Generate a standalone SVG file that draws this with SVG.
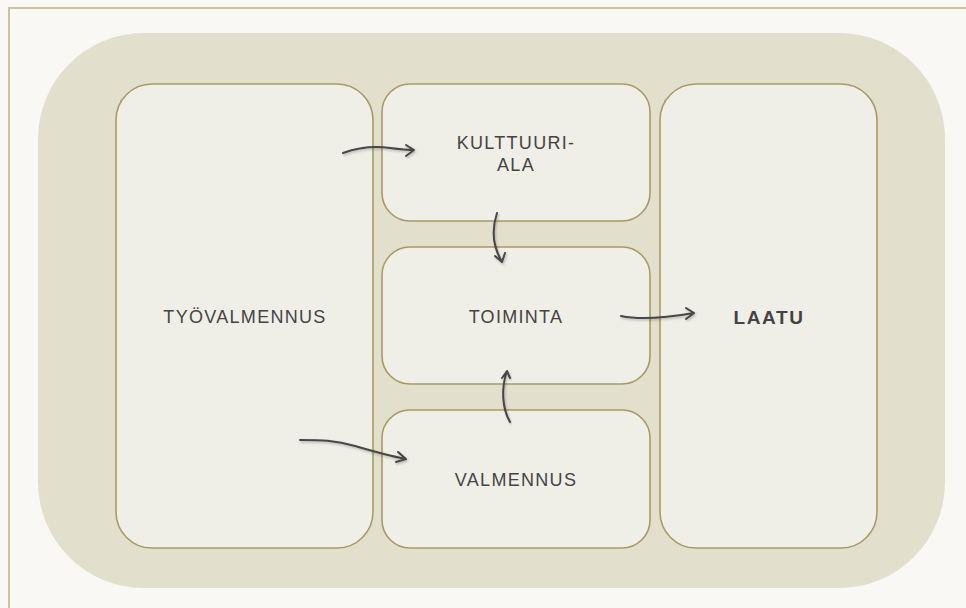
<svg xmlns="http://www.w3.org/2000/svg" width="966" height="608" viewBox="0 0 966 608">
  <style>
    .box { fill: #f0efe7; stroke: #a89a64; stroke-width: 1.6; }
    .lbl { font-family: "Liberation Sans", Arial, sans-serif; font-size: 18px; fill: #444444; text-anchor: middle; letter-spacing: 1.3px; }
    .big { font-size: 19px; font-weight: bold; letter-spacing: 1.6px; }
    .arrow { fill: none; stroke: #464646; stroke-width: 2; stroke-linecap: round; stroke-linejoin: round; filter: url(#soft); }
  </style>
  <defs>
    <filter id="soft" x="-20%" y="-20%" width="140%" height="140%">
      <feDropShadow dx="1" dy="1.5" stdDeviation="1.2" flood-color="#000000" flood-opacity="0.25"/>
    </filter>
  </defs>

  <!-- page background and frame -->
  <rect x="0" y="0" width="966" height="608" fill="#f9f8f5"/>
  <rect x="9" y="8" width="970" height="620" fill="none" stroke="#cbc29f" stroke-width="2"/>

  <!-- backdrop panel -->
  <rect x="38" y="33" width="907" height="555" rx="106" ry="106" fill="#e2dfcc"/>

  <g id="tyovalmennus">
    <rect class="box" x="116" y="84" width="257" height="464" rx="36" ry="36"/>
    <text class="lbl" x="245" y="323">TYÖVALMENNUS</text>
  </g>

  <g id="kulttuuriala">
    <rect class="box" x="382" y="84" width="268" height="137" rx="28" ry="28"/>
    <text class="lbl" x="516" y="149">KULTTUURI-</text>
    <text class="lbl" x="516" y="171">ALA</text>
  </g>

  <g id="toiminta">
    <rect class="box" x="382" y="247" width="268" height="137" rx="28" ry="28"/>
    <text class="lbl" x="516" y="323">TOIMINTA</text>
  </g>

  <g id="valmennus">
    <rect class="box" x="382" y="410" width="268" height="138" rx="28" ry="28"/>
    <text class="lbl" x="516" y="486">VALMENNUS</text>
  </g>

  <g id="laatu">
    <rect class="box" x="660" y="84" width="217" height="464" rx="36" ry="36"/>
    <text class="lbl big" x="769" y="324">LAATU</text>
  </g>

  <g id="connectors">
    <!-- työvalmennus to kulttuuriala -->
    <path class="arrow" d="M343,153 C360,147 375,146 390,148 C398,149 406,150 414,150 M406,145 L414,150 L406,156"/>
    <!-- kulttuuriala to toiminta -->
    <path class="arrow" d="M497,213 C492,228 492,245 502,262 M495,256 L502,262 L505,253"/>
    <!-- toiminta to laatu -->
    <path class="arrow" d="M621,316 C640,320 665,318 694,313 M686,308 L694,313 L686,319"/>
    <!-- valmennus to toiminta -->
    <path class="arrow" d="M510,422 C502,408 501,388 507,371 M502,378 L507,371 L510,378"/>
    <!-- työvalmennus to valmennus -->
    <path class="arrow" d="M300,440 C320,440 335,440 355,446 C372,451 390,456 406,459 M398,452 L406,459 L396,462"/>
  </g>
</svg>
